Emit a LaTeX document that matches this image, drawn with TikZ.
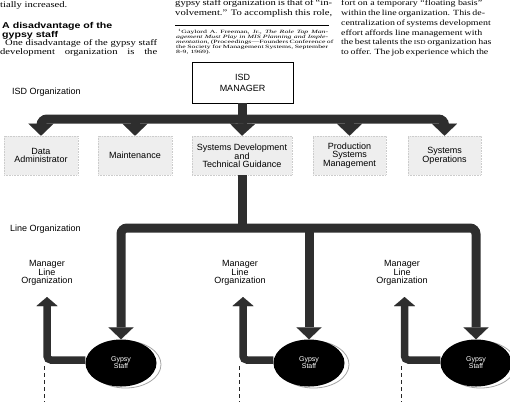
\documentclass[tikz,border=0pt]{standalone}
\usepackage{fontspec}
\setmainfont{Liberation Serif}
\setsansfont{Liberation Sans}
\usepackage{graphicx}
\usetikzlibrary{arrows.meta,shapes.geometric,calc}
\newcommand{\jl}[3][0.8]{\scalebox{1}[#1]{\makebox[#2][s]{#3}}}
\newcommand{\pl}[2][0.8]{\scalebox{1}[#1]{#2}}
\begin{document}
\begin{tikzpicture}[x=1pt,y=-1pt,
  body/.style={anchor=base west, inner sep=0pt, font=\fontsize{10.6}{12}\selectfont},
  rbody/.style={anchor=base west, inner sep=0pt, font=\fontsize{9.9}{12}\selectfont},
  foot/.style={anchor=base west, inner sep=0pt, font=\fontsize{7.8}{9}\selectfont},
  headtxt/.style={anchor=north west, inner sep=0pt, align=left,
    font=\fontsize{10.6}{7.6}\selectfont\sffamily\bfseries},
  lbl/.style={inner sep=0pt, align=center, font=\fontsize{9}{8}\selectfont\sffamily},
  unit/.style={draw=gray!40, densely dotted, line width=.6pt, fill=gray!13, inner sep=0pt,
    minimum height=39pt, align=center, font=\fontsize{9}{8}\selectfont\sffamily},
  mgr/.style={draw=black, line width=.8pt, fill=white, minimum width=101pt, minimum height=41pt,
    inner sep=0pt, align=center, font=\fontsize{9}{11}\selectfont\sffamily},
  gypsy/.style={ellipse, fill=black, inner sep=0pt, minimum width=71pt, minimum height=47pt,
    text=white, align=center, font=\fontsize{7}{7}\selectfont\sffamily},
  gshadow/.style={ellipse, fill=white, draw=gray!70, line width=.8pt, inner sep=0pt,
    minimum width=71pt, minimum height=47pt},
  fat/.style={line width=9pt, draw=black!82,
    >={Triangle[width=25pt,length=12pt,line width=0.01pt]}},
  slim/.style={line width=7.5pt, draw=black!82,
    >={Triangle[width=21pt,length=9pt,line width=0.01pt]}},
  dashline/.style={line width=.8pt, draw=black!85, dash pattern=on 4pt off 3pt}
]
\useasboundingbox (0,0) rectangle (510,402);

% ---------- page text ----------
\node[body] (t1) at (0,7.2) {\pl{tially increased.}};
\node[headtxt] (t2) at (2,22.6) {\pl[0.8]{A disadvantage of the}\\\pl[0.8]{gypsy staff}};
\node[body] (t4) at (5,45) {\jl{152pt}{One disadvantage of the gypsy staff}};
\node[body] (t5) at (0,54) {\jl{157pt}{development organization is the}};

\node[body] (m1) at (175,5.6) {\jl{157pt}{gypsy staff organization is that of “in-}};
\node[body] (m2) at (175,15.4) {\jl{157pt}{volvement.” To accomplish this role,}};
\coordinate (ruleA) at (175,25);
\coordinate (ruleB) at (329,25);
\draw[line width=.8pt] (ruleA) -- (ruleB);
\node[foot] (f1) at (178,33) {\jl[0.62]{150pt}{\textsuperscript{1}Gaylord A. Freeman, Jr., \textit{The Role Top Man-}}};
\node[foot] (f2) at (176,38) {\jl[0.62]{152pt}{\textit{agement Must Play in MIS Planning and Imple-}}};
\node[foot] (f3) at (176,43) {\jl[0.62]{152pt}{\textit{mentation}, (Proceedings—Founders Conference of}};
\node[foot] (f4) at (176,48) {\jl[0.62]{152pt}{the Society for Management Systems, September}};
\node[foot] (f5) at (176,53) {\pl[0.62]{8-9, 1969).}};

\node[rbody] (r1) at (341,5.5) {\jl{141pt}{fort on a temporary “floating basis”}};
\node[rbody] (r2) at (341,15) {\jl{141pt}{within the line organization. This de-}};
\node[rbody] (r3) at (341,25) {\jl{141pt}{centralization of systems development}};
\node[rbody] (r4) at (341,35) {\jl{141pt}{effort affords line management with}};
\node[rbody] (r5) at (341,44.5) {\jl{141pt}{the best talents the {\fontsize{7.4}{9}\selectfont ISD} organization has}};
\node[rbody] (r6) at (341,54.5) {\jl{141pt}{to offer. The job experience which the}};

% ---------- diagram labels ----------
\node[lbl, anchor=west] (isdorg) at (12,92) {ISD Organization};
\node[lbl, anchor=west] (lineorg) at (10,229) {Line Organization};

% ---------- ISD manager and units ----------
\node[mgr] (isd) at (242.5,82.5) {ISD\\MANAGER};
\node[unit, minimum width=74pt] (da) at (41,155.5) {Data\\Administrator};
\node[unit, minimum width=74pt] (mt) at (135,155.5) {Maintenance};
\node[unit, minimum width=100pt] (sd) at (242,155.5) {Systems Development\\and\\Technical Guidance};
\node[unit, minimum width=73pt] (ps) at (349.5,155.5) {Production\\Systems\\Management};
\node[unit, minimum width=73pt] (so) at (444.5,155.5) {Systems\\Operations};

% ---------- line organization ----------
\node[lbl] (ml1) at (47,273) {Manager\\Line\\Organization};
\node[lbl] (ml2) at (240,273) {Manager\\Line\\Organization};
\node[lbl] (ml3) at (402,273) {Manager\\Line\\Organization};

\node[gshadow] (g1s) at (125.5,364.5) {};
\node[gshadow] (g2s) at (313.5,364.5) {};
\node[gshadow] (g3s) at (480.5,364.5) {};
\node[gypsy] (g1) at (121,363) {Gypsy\\Staff};
\node[gypsy] (g2) at (309,363) {Gypsy\\Staff};
\node[gypsy] (g3) at (476,363) {Gypsy\\Staff};

% ---------- connectors: ISD ----------
\coordinate (bus) at (242.5,119);
\draw[fat] (isd.south) -- (bus);
\draw[fat, rounded corners=6pt, <->] (da.north) |- (bus) -| (so.north);
\draw[fat, ->] (mt.north |- bus) -- (mt.north);
\draw[fat, ->] (bus) -- (sd.north);
\draw[fat, ->] (ps.north |- bus) -- (ps.north);

% ---------- connectors: line organization ----------
\coordinate (lbus) at (242,228);
\draw[fat] (sd.south) -- (lbus);
\draw[fat, rounded corners=6pt, <->] (g1.north) |- (lbus) -| (g3.north);
\draw[fat, ->] (g2.north |- lbus) -- (g2.north);

\coordinate (u1) at (47,297);
\coordinate (u2) at (243,297);
\coordinate (u3) at (404.5,297);
\draw[slim, rounded corners=4pt, ->] ($(g1.west)+(0,-3)$) -| (u1);
\draw[slim, rounded corners=4pt, ->] ($(g2.west)+(0,-3)$) -| (u2);
\draw[slim, rounded corners=4pt, ->] ($(g3.west)+(0,-3)$) -| (u3);

\coordinate (d1a) at (44.5,366);
\coordinate (d1b) at (44.5,402);
\coordinate (d2a) at (239.5,366);
\coordinate (d2b) at (239.5,402);
\coordinate (d3a) at (401,366);
\coordinate (d3b) at (401,402);
\draw[dashline] (d1a) -- (d1b);
\draw[dashline] (d2a) -- (d2b);
\draw[dashline] (d3a) -- (d3b);
\end{tikzpicture}
\end{document}
